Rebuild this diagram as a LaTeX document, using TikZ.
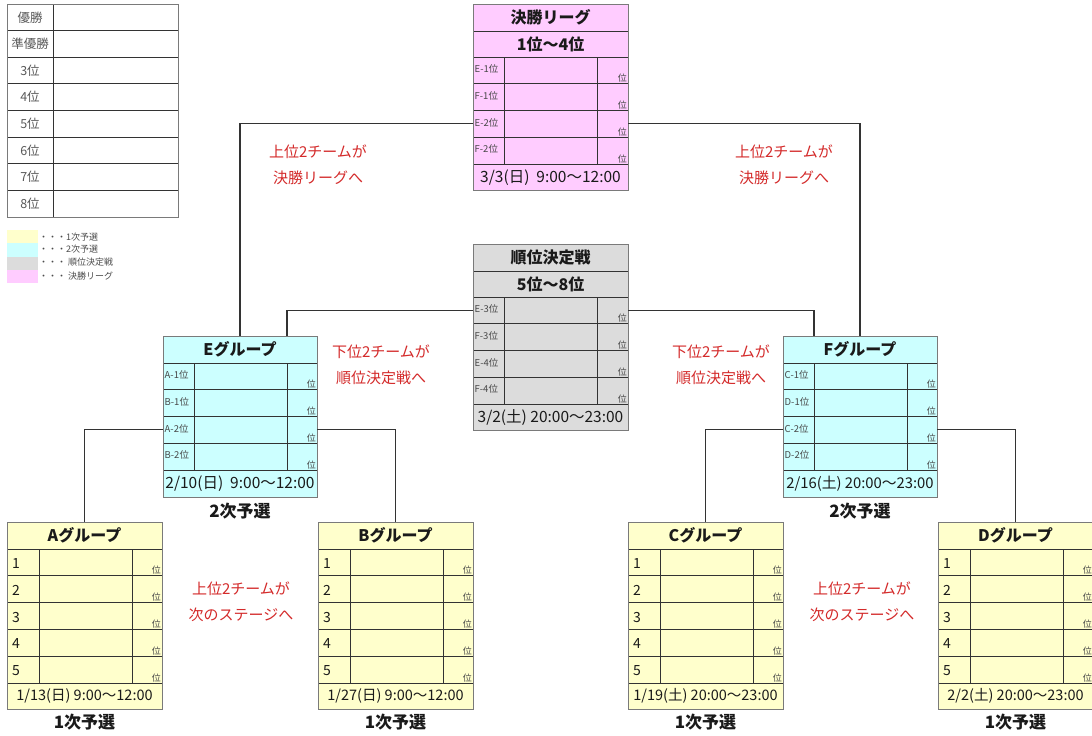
\documentclass[tikz,border=0pt]{standalone}
\usepackage{fontspec}
\setmainfont{Noto Sans CJK JP}
\definecolor{cyel}{HTML}{FFFFCC}
\definecolor{ccya}{HTML}{CCFFFF}
\definecolor{cgry}{HTML}{DCDCDC}
\definecolor{cpnk}{HTML}{FFCCFF}
\definecolor{cred}{HTML}{D42A2A}
\definecolor{cline}{HTML}{333333}
\definecolor{cedge}{HTML}{7A7A7A}
\definecolor{ctxt}{HTML}{1A1A1A}
\tikzset{
  box/.style={draw=none, inner sep=0pt, outer sep=0pt},
  edge/.style={draw=cedge, line width=0.9pt},
  inner/.style={draw=cline, line width=0.8pt},
  conn/.style={draw=cline, line width=1.1pt},
  ttl/.style={font={\fontsize{16}{18}\selectfont\bfseries}, text=ctxt, inner sep=0pt},
  dt/.style={font={\fontsize{15.5}{17}\selectfont}, text=ctxt, inner sep=0pt},
  dtone/.style={font={\fontsize{14.5}{16}\selectfont}, text=ctxt, inner sep=0pt},
  lab/.style={font={\fontsize{9.5}{10}\selectfont}, text=ctxt!80, inner sep=0pt},
  rk/.style={font={\fontsize{9}{10}\selectfont}, text=ctxt!80, inner sep=1pt},
  num/.style={font={\fontsize{14}{16}\selectfont}, text=ctxt, inner sep=0pt},
  stg/.style={font={\fontsize{17}{19}\selectfont\bfseries}, text=ctxt, inner sep=0pt},
  note/.style={font={\fontsize{15}{26}\selectfont}, text=cred, align=center, inner sep=0pt},
  ranktxt/.style={font={\fontsize{12.5}{14}\selectfont}, text=black!65, inner sep=0pt},
  legtxt/.style={font={\fontsize{9}{10}\selectfont}, text=black!70, inner sep=0pt, anchor=west},
  swatch/.style={draw=none, inner sep=0pt, minimum width=31pt, minimum height=13.2pt, anchor=north west},
}
% first-stage group: name, left x, title, date
\newcommand\firstgrp[4]{%
\begin{scope}[shift={(#2,522)}]
  \node[box, fill=cyel, minimum width=155pt, minimum height=187pt, anchor=north west] (#1) at (0,0) {};
  \node[ttl] at (77.5,13.5) {#3};
  \foreach \i in {1,...,5} {
    \pgfmathsetmacro\yt{27+26.8*(\i-1)}
    \draw[inner] (0,\yt) -- (155,\yt);
    \node[num, anchor=west] at (5,\yt+14.5) {\i};
    \node[rk, anchor=south east] at (155,\yt+26.8) {位};
  }
  \draw[inner] (0,161) -- (155,161);
  \draw[inner] (32,27) -- (32,161);
  \draw[inner] (125,27) -- (125,161);
  \node[dtone] at (77.5,174) {#4};
  \draw[edge] (0,0) rectangle (155,187);
  \node[stg] at (77.5,200) {1次予選};
\end{scope}}
% second-stage group: name, left x, title, labels, date
\newcommand\secondgrp[5]{%
\begin{scope}[shift={(#2,336)}]
  \node[box, fill=ccya, minimum width=154pt, minimum height=161pt, anchor=north west] (#1) at (0,0) {};
  \coordinate (#1-c1) at (31,0);
  \coordinate (#1-c2) at (124,0);
  \node[ttl] at (77,13.5) {#3};
  \foreach \lab [count=\i] in {#4} {
    \pgfmathsetmacro\yt{27+26.75*(\i-1)}
    \draw[inner] (0,\yt) -- (154,\yt);
    \node[lab, anchor=west] at (1.5,\yt+12) {\lab};
    \node[rk, anchor=south east] at (154,\yt+26.75) {位};
    \coordinate (#1-r\i) at (0,\yt+13.4);
    \coordinate (#1-R\i) at (154,\yt+13.4);
  }
  \draw[inner] (0,134) -- (154,134);
  \draw[inner] (31,27) -- (31,134);
  \draw[inner] (124,27) -- (124,134);
  \node[dt] at (77,147.5) {#5};
  \draw[edge] (0,0) rectangle (154,161);
  \node[stg] at (77,175) {2次予選};
\end{scope}}
% final / placement box: name, top y, fill, title, subtitle, labels, date
\newcommand\finalbox[7]{%
\begin{scope}[shift={(473,#2)}]
  \node[box, fill=#3, minimum width=155pt, minimum height=186.5pt, anchor=north west] (#1) at (0,0) {};
  \node[ttl] at (77.5,13.5) {#4};
  \node[ttl] at (77.5,40) {#5};
  \draw[inner] (0,27) -- (155,27);
  \foreach \lab [count=\i] in {#6} {
    \pgfmathsetmacro\yt{53+26.75*(\i-1)}
    \draw[inner] (0,\yt) -- (155,\yt);
    \node[lab, anchor=west] at (1.5,\yt+12) {\lab};
    \node[rk, anchor=south east] at (155,\yt+26.75) {位};
    \coordinate (#1-r\i) at (0,\yt+13.4);
    \coordinate (#1-R\i) at (155,\yt+13.4);
  }
  \draw[inner] (0,160) -- (155,160);
  \draw[inner] (31,53) -- (31,160);
  \draw[inner] (124,53) -- (124,160);
  \node[dt] at (77.5,173.25) {#7};
  \draw[edge] (0,0) rectangle (155,186.5);
\end{scope}}
\begin{document}
\begin{tikzpicture}[x=1pt, y=-1pt]
\useasboundingbox[fill=white] (0,0) rectangle (1092,736);

% ranking table
\node[box, fill=white, minimum width=171pt, minimum height=213pt, anchor=north west] (rank) at (7,4) {};
\foreach \t [count=\i] in {優勝,準優勝,3位,4位,5位,6位,7位,8位} {
  \pgfmathsetmacro\yt{4+26.625*(\i-1)}
  \draw[inner] (7,\yt) -- (178,\yt);
  \node[ranktxt] at (30,\yt+13.3) {\t};
}
\draw[inner] (53,4) -- (53,217);
\draw[inner] (7,217) -- (178,217);
\draw[edge] (7,4) rectangle (178,217);

% legend
\node[swatch, fill=cyel] (leg1) at (7,230) {};
\node[swatch, fill=ccya] (leg2) at (7,243.2) {};
\node[swatch, fill=cgry] (leg3) at (7,256.4) {};
\node[swatch, fill=cpnk] (leg4) at (7,269.6) {};
\node[legtxt] (legt1) at (39,237) {・・・1次予選};
\node[legtxt] (legt2) at (39,249.5) {・・・2次予選};
\node[legtxt] (legt3) at (39,262.5) {・・・ 順位決定戦};
\node[legtxt] (legt4) at (39,276) {・・・ 決勝リーグ};

% boxes
\finalbox{fin}{4}{cpnk}{決勝リーグ}{1位～4位}{E-1位,F-1位,E-2位,F-2位}{3/3(日)\ \ 9:00～12:00}
\finalbox{mid}{244}{cgry}{順位決定戦}{5位～8位}{E-3位,F-3位,E-4位,F-4位}{3/2(土)\ 20:00～23:00}
\secondgrp{grpE}{163}{Eグループ}{A-1位,B-1位,A-2位,B-2位}{2/10(日)\ \ 9:00～12:00}
\secondgrp{grpF}{783}{Fグループ}{C-1位,D-1位,C-2位,D-2位}{\fontsize{14.8}{17}\selectfont 2/16(土)\ 20:00～23:00}
\firstgrp{grpA}{7}{Aグループ}{1/13(日)\ 9:00～12:00}
\firstgrp{grpB}{318}{Bグループ}{1/27(日)\ 9:00～12:00}
\firstgrp{grpC}{628}{Cグループ}{1/19(土)\ 20:00～23:00}
\firstgrp{grpD}{938}{Dグループ}{2/2(土)\ 20:00～23:00}

% connectors
\draw[conn] (fin-r3) -| (grpE.north);
\draw[conn] (fin-R3) -| (grpF.north);
\draw[conn] (mid-r1) -| (grpE-c2);
\draw[conn] (mid-R1) -| (grpF-c1);
\draw[conn] (grpE-r3) -| (grpA.north);
\draw[conn] (grpE-R3) -| (grpB.north);
\draw[conn] (grpF-r3) -| (grpC.north);
\draw[conn] (grpF-R3) -| (grpD.north);

% notes
\node[note] (n1) at (318,165) {上位2チームが\\決勝リーグへ};
\node[note] (n2) at (784,165) {上位2チームが\\決勝リーグへ};
\node[note] (n3) at (381,365) {下位2チームが\\順位決定戦へ};
\node[note] (n4) at (721,365) {下位2チームが\\順位決定戦へ};
\node[note] (n5) at (241,602) {上位2チームが\\次のステージへ};
\node[note] (n6) at (862,602) {上位2チームが\\次のステージへ};
\end{tikzpicture}
\end{document}
